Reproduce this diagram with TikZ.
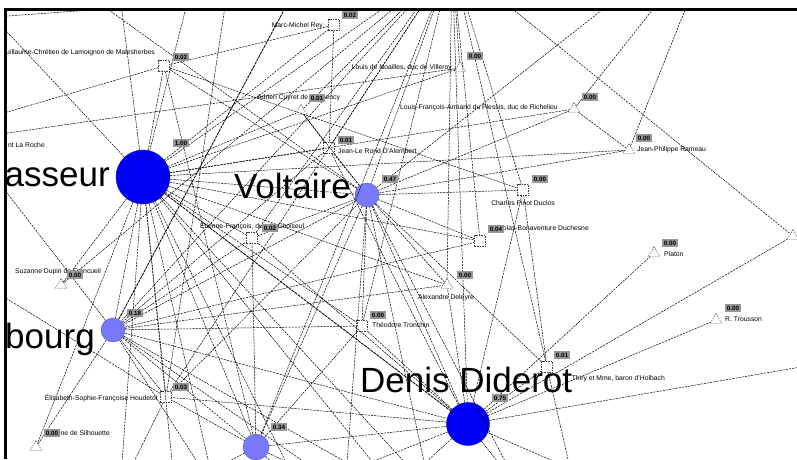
\documentclass[tikz,border=0pt]{standalone}
\usepackage{fontspec}
\setmainfont{Liberation Sans}
\usetikzlibrary{shapes.geometric}
\definecolor{hubblue}{RGB}{0,0,245}
\definecolor{lav}{RGB}{120,120,250}
\definecolor{valgray}{RGB}{150,150,150}
\tikzset{
  edge/.style={draw=black, line width=0.5pt, dash pattern=on 2.2pt off 1pt},
  heavy/.style={draw=black, line width=0.85pt, dash pattern=on 3pt off 0.8pt},
  tri/.style={regular polygon, regular polygon sides=3, draw=black!75, line width=0.4pt, dash pattern=on 1.5pt off 1pt, fill=white, minimum size=13pt, inner sep=0pt},
  sq/.style={rectangle, draw=black!75, line width=0.4pt, dash pattern=on 1.5pt off 1pt, fill=white, minimum size=11pt, inner sep=0pt},
  hub/.style={circle, draw=#1!75!black, fill=#1, line width=0.4pt, inner sep=0pt},
  val/.style={fill=valgray, text=black, font=\fontsize{6.3}{6.3}\selectfont\bfseries, inner xsep=1.6pt, inner ysep=1.8pt},
  lab/.style={font=\fontsize{6.8}{7}\selectfont, inner sep=0pt, text=black},
  biglab/.style={font=\fontsize{35}{40}\selectfont, inner sep=0pt, text=black},
}
\begin{document}
\begin{tikzpicture}[x=1pt,y=-1pt]
\useasboundingbox (0,0) rectangle (797,459);
\fill[white] (0,0) rectangle (797,459);
\begin{scope}
\clip (6.6,10.8) rectangle (797,459);
% ---- hub circles
\node[hub=hubblue, minimum size=54pt] (lev) at (143,177) {};
\node[hub=lav, minimum size=24pt] (vol) at (367,195) {};
\node[hub=lav, minimum size=24pt] (lux) at (113,330) {};
\node[hub=lav, minimum size=26pt] (bot) at (256,447) {};
\node[hub=hubblue, minimum size=43pt] (did) at (468,424) {};
% ---- small nodes
\node[sq]  (mal)  at (164,66) {};
\node[sq]  (rey)  at (334,25) {};
\node[tri] (vil)  at (460,68) {};
\node[tri] (mar)  at (301,111) {};
\node[tri] (ric)  at (574,109) {};
\node[sq]  (ale)  at (329,148) {};
\node[tri] (ram)  at (629,150) {};
\node[sq]  (duc)  at (523,190) {};
\node[sq]  (dch)  at (480,241) {};
\node[tri] (pla)  at (654,253) {};
\node[tri] (tro)  at (716,320) {};
\node[tri] (rt)   at (793,236) {};
\node[sq]  (hol)  at (547,367) {};
\node[tri] (dey)  at (447,285) {};
\node[sq]  (tron) at (362,326) {};
\node[sq]  (cho)  at (252,238) {};
\node[tri] (suz)  at (61,285) {};
\node[sq]  (hou)  at (166,397) {};
\node[tri] (sil)  at (36,447) {};
% ---- off-screen ends
\coordinate (T0) at (452,-40);
\coordinate (Ta) at (67,-20);
\coordinate (Tb) at (118,-20);
\coordinate (Tc) at (193,-20);
\coordinate (Td) at (229,-20);
\coordinate (Te) at (300,-20);
\coordinate (Tf) at (640,-20);
\coordinate (Tg) at (676,-20);
\coordinate (Th) at (697,-20);
\coordinate (Tk) at (230,0);
\coordinate (La) at (-20,3);
\coordinate (Lb) at (-20,120);
\coordinate (Lc) at (-20,137);
\coordinate (Ld) at (-20,158);
\coordinate (Le) at (-20,282);
\coordinate (Lf) at (-20,18);
\coordinate (Ra) at (830,362);
\coordinate (Ba) at (120,490);
\coordinate (Bb) at (175,490);
\coordinate (Bc) at (215,490);
\coordinate (Bd) at (300,490);
\coordinate (Be) at (345,490);
\coordinate (Bf) at (395,490);
\coordinate (Bg) at (430,490);
\coordinate (Bh) at (520,490);
\coordinate (Bi) at (575,490);
\coordinate (Bj) at (620,490);
% ---- edges
\foreach \a/\b in {T0/vil, T0/mar, T0/ale, T0/vol, T0/duc, T0/dch, T0/dey, T0/tron, T0/did, T0/cho, T0/lev, T0/lux, T0/bot, T0/hou, T0/rt, T0/hol, T0/suz,
  lev/La, lev/Tb, lev/Tc, lev/mal, lev/rey, lev/mar, lev/ale, lev/vil, lev/ric, lev/vol, lev/ram, lev/cho, lev/tron, lev/dey, lev/dch, lev/bot, lev/hou, lev/lux, lev/suz, lev/sil, lev/Ba, lev/Bb, lev/Bc, lev/Bd, lev/Bf, lev/Bg,
  vol/Ta, vol/Tf, vol/mal, vol/mar, vol/ale, vol/ric, vol/ram, vol/duc, vol/dch, vol/dey, vol/tron, vol/cho, vol/did, vol/bot, vol/hou, vol/lux, vol/hol, vol/Be, vol/Bg, vol/Bh,
  lux/Ld, lux/tron, lux/did, lux/bot, lux/hou, lux/dch, lux/dey, lux/cho, lux/sil, lux/ale, lux/Bc, lux/Be, lux/Bf,
  did/ale, did/dey, did/tron, did/cho, did/bot, did/hou, did/pla, did/tro, did/rt, did/Ra, did/hol, did/duc, did/Bf, did/Bh, did/Bj, did/Bd,
  bot/mal, bot/cho, bot/tron, bot/hou, bot/Bb, bot/Bd, bot/Be, hou/Td, hou/Le, hou/Ba, rey/mal, mal/Lb, vil/Lc, Lf/Tk, ric/Tg, ram/Th, ric/ram, duc/hol, hol/Bi, mal/duc, rey/ale, mar/ale}
  \draw[edge] (\a) -- (\b);
\draw[heavy] (lev) -- (did);
\draw[heavy] (lux) -- (Te);
% ---- small labels
\node[lab, anchor=east] (mall) at (155,53) {Guillaume-Chrétien de Lamoignon de Malesherbes};
\node[lab, anchor=east] (reyl) at (323,26) {Marc-Michel Rey};
\node[lab, anchor=east] (vill) at (452,68) {Louis de Noailles, duc de Villeroy};
\node[lab, anchor=west] (marl) at (257,98) {Adrien Cuyret de Margency};
\node[lab, anchor=east] (ricl) at (558,108) {Louis-François-Armand du Plessis, duc de Richelieu};
\node[lab, anchor=west] (alel) at (338,151) {Jean-Le Rond D'Alembert};
\node[lab, anchor=west] (raml) at (637,150) {Jean-Philippe Rameau};
\node[lab] (ducl) at (523,203) {Charles Pinot Duclos};
\node[lab, anchor=east] (dchl) at (589,228) {Nicolas-Bonaventure Duchesne};
\node[lab, anchor=west] (plal) at (664,254) {Platon};
\node[lab, anchor=west] (trol) at (725,319) {R. Trousson};
\node[lab, anchor=east] (holl) at (665,379) {Thiry et Mme, baron d'Holbach};
\node[lab] (deyl) at (446,298) {Alexandre Deleyre};
\node[lab, anchor=west] (tronl) at (372,325) {Théodore Tronchin};
\node[lab, anchor=west] (chol) at (200,226) {Étienne-François, duc de Choiseul};
\node[lab, anchor=west] (suzl) at (15,272) {Suzanne Dupin de Francueil};
\node[lab, anchor=east] (houl) at (158,398) {Élisabeth-Sophie-Françoise Houdetot};
\node[lab, anchor=east] (sill) at (110,433) {Étienne de Silhouette};
\node[lab, anchor=east] (larl) at (45,145) {nt La Roche};
% ---- big labels
\node[biglab, anchor=base east] (levl) at (110,186) {Thérèse Levasseur};
\node[biglab, anchor=base east] (voll) at (351,198) {Voltaire};
\node[biglab, anchor=base east] (luxl) at (95,348) {Mme de Luxembourg};
\node[biglab, anchor=base west] (didl) at (360,392) {Denis Diderot};
% ---- values
\node[val] (malv)  at (181,57)  {0.02};
\node[val] (reyv)  at (350,15)  {0.02};
\node[val] (vilv)  at (475,56)  {0.00};
\node[val] (marv)  at (317,98)  {0.01};
\node[val] (ricv)  at (590,97)  {0.00};
\node[val] (alev)  at (346,140) {0.01};
\node[val] (ramv)  at (644,138) {0.00};
\node[val] (ducv)  at (540,179) {0.00};
\node[val] (dchv)  at (496,229) {0.04};
\node[val] (plav)  at (670,243) {0.00};
\node[val] (trov)  at (733,308) {0.00};
\node[val] (holv)  at (562,355) {0.01};
\node[val] (deyv)  at (465,275) {0.00};
\node[val] (tronv) at (378,315) {0.00};
\node[val] (chov)  at (270,228) {0.02};
\node[val] (suzv)  at (75,275)  {0.00};
\node[val] (houv)  at (181,387) {0.03};
\node[val] (silv)  at (52,433)  {0.00};
\node[val] (levv)  at (181,143) {1.00};
\node[val] (volv)  at (390,179) {0.47};
\node[val] (luxv)  at (135,313) {0.18};
\node[val] (botv)  at (279,427) {0.34};
\node[val] (didv)  at (500,398) {0.75};
\end{scope}
\draw[line width=2.4pt, line join=miter] (5.3,459) -- (5.3,9.5) -- (797,9.5);
\end{tikzpicture}
\end{document}
